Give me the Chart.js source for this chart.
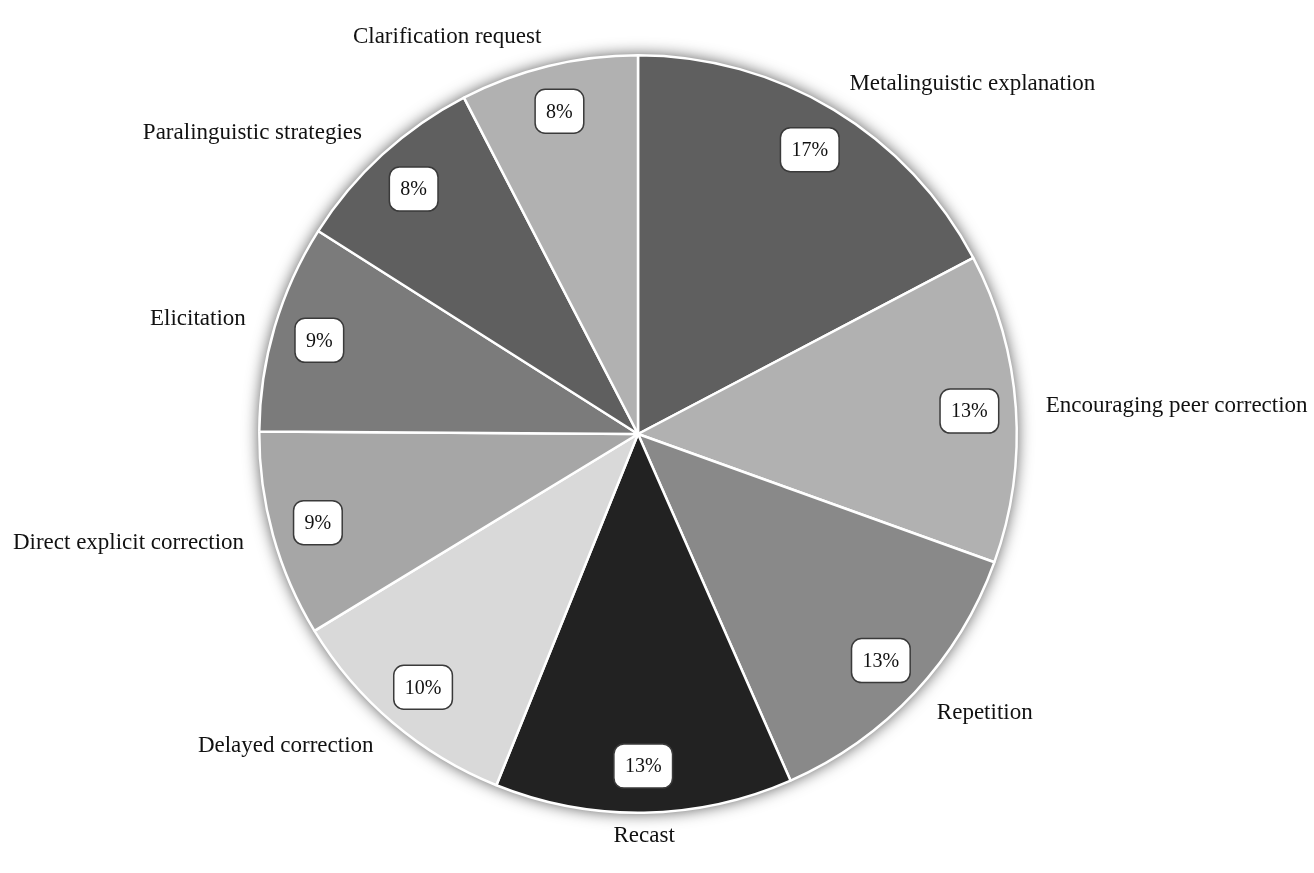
<!DOCTYPE html>
<html>
<head>
<meta charset="utf-8">
<script src="https://cdn.jsdelivr.net/npm/chart.js@4.4.1/dist/chart.umd.min.js"></script>
<style>
  html, body { margin: 0; padding: 0; background: #ffffff; }
  #wrap { width: 1314px; height: 873px; }
</style>
</head>
<body>
<div id="wrap"><canvas id="chart" width="1314" height="873"></canvas></div>
<script>
// Corrective feedback strategies (share of all feedback moves, %)
const categories = [
  'Metalinguistic explanation',
  'Encouraging peer correction',
  'Repetition',
  'Recast',
  'Delayed correction',
  'Direct explicit correction',
  'Elicitation',
  'Paralinguistic strategies',
  'Clarification request'
];
const shares = [17.3, 13.2, 12.9, 12.7, 10.2, 8.8, 8.9, 8.4, 7.6];
const sliceColors = ['#5f5f5f', '#b1b1b1', '#898989', '#222222', '#d9d9d9', '#a6a6a6', '#7b7b7b', '#5f5f5f', '#b1b1b1'];

const SERIF = '"Liberation Serif", "Times New Roman", "DejaVu Serif", serif';

// Soft grey glow behind the pie
const pieShadow = {
  id: 'pieShadow',
  beforeDatasetsDraw(chart) {
    const arc = chart.getDatasetMeta(0).data[0];
    if (!arc) return;
    const ctx = chart.ctx;
    ctx.save();
    ctx.beginPath();
    ctx.arc(arc.x, arc.y, arc.outerRadius, 0, Math.PI * 2);
    ctx.shadowColor = 'rgba(0,0,0,0.7)';
    ctx.shadowBlur = 16;
    ctx.fillStyle = '#ffffff';
    ctx.fill();
    ctx.restore();
  }
};

// Percentage boxes inside the slices and category names outside
const sliceLabels = {
  id: 'sliceLabels',
  afterDatasetsDraw(chart) {
    const ctx = chart.ctx;
    const meta = chart.getDatasetMeta(0);
    const total = shares.reduce((a, b) => a + b, 0);
    meta.data.forEach((arc, i) => {
      const mid = (arc.startAngle + arc.endAngle) / 2;
      const cos = Math.cos(mid), sin = Math.sin(mid);
      const r = arc.outerRadius;

      // value box
      const pct = Math.round(shares[i] / total * 100) + '%';
      ctx.save();
      ctx.font = '20px ' + SERIF;
      const tw = ctx.measureText(pct).width;
      const bw = tw + 22, bh = 44;
      const bx = arc.x + cos * r * 0.877, by = arc.y + sin * r * 0.877;
      ctx.beginPath();
      ctx.roundRect(bx - bw / 2, by - bh / 2, bw, bh, 10);
      ctx.fillStyle = '#ffffff';
      ctx.fill();
      ctx.lineWidth = 1.5;
      ctx.strokeStyle = '#3a3a3a';
      ctx.stroke();
      ctx.fillStyle = '#111111';
      ctx.textAlign = 'center';
      ctx.textBaseline = 'middle';
      ctx.fillText(pct, bx, by + 1);
      ctx.restore();

      // category name
      ctx.save();
      ctx.font = '23px ' + SERIF;
      ctx.fillStyle = '#111111';
      ctx.textBaseline = 'middle';
      if (Math.abs(cos) < 0.2) {
        // near top or bottom: centred, near edge just outside the rim
        const R = r + 12;
        ctx.textAlign = 'center';
        ctx.textBaseline = sin > 0 ? 'top' : 'bottom';
        ctx.fillText(categories[i], arc.x + cos * R, arc.y + sin * R);
      } else {
        const R = r + 30;
        ctx.textAlign = cos > 0 ? 'left' : 'right';
        ctx.fillText(categories[i], arc.x + cos * R, arc.y + sin * R);
      }
      ctx.restore();
    });
  }
};

new Chart(document.getElementById('chart'), {
  type: 'pie',
  data: {
    labels: categories,
    datasets: [{
      data: shares,
      backgroundColor: sliceColors,
      borderColor: '#ffffff',
      borderWidth: 2.5
    }]
  },
  options: {
    responsive: false,
    animation: false,
    layout: { padding: { top: 54, bottom: 59, left: 0, right: 38 } },
    plugins: {
      legend: { display: false },
      tooltip: { enabled: false }
    }
  },
  plugins: [pieShadow, sliceLabels]
});
</script>
</body>
</html>
